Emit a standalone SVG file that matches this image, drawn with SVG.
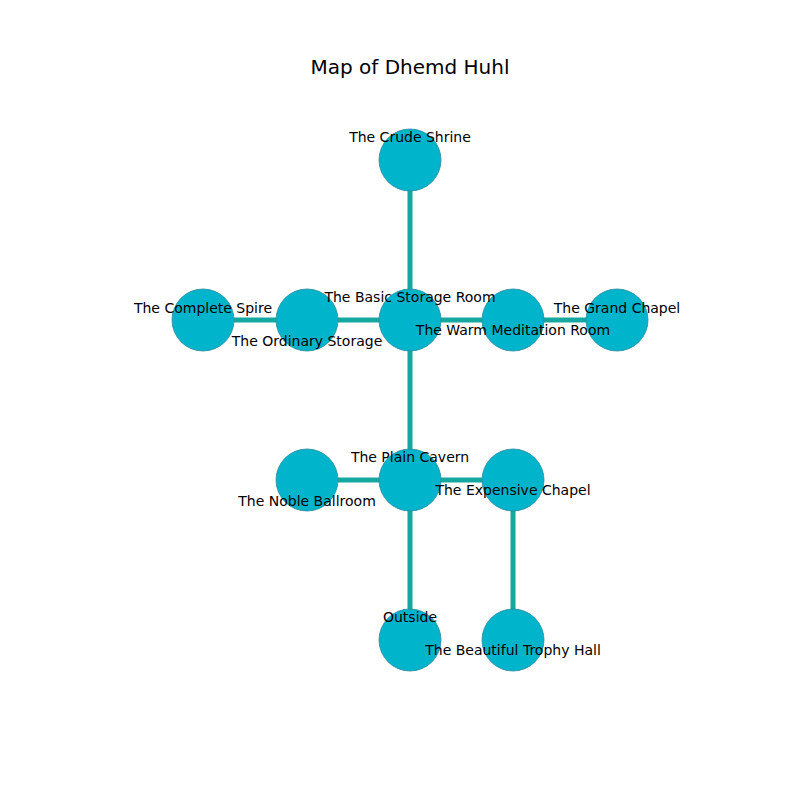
<svg xmlns="http://www.w3.org/2000/svg" width="800" height="800" viewBox="0 0 800 800">
<style>
.edge{stroke:#14a8a0;stroke-width:5;fill:none}
.node circle{fill:#00b4cc;stroke:#2a8a9a;stroke-width:0.8}
.label{font-family:"DejaVu Sans",sans-serif;font-size:14px;fill:#000;text-anchor:middle}
.title{font-family:"DejaVu Sans",sans-serif;font-size:20px;fill:#000;text-anchor:middle}
</style>
<rect width="800" height="800" fill="#fff"/>
<text class="title" x="410" y="74">Map of Dhemd Huhl</text>
<g id="connectors">
<line class="edge" x1="410" y1="160" x2="410" y2="320"/>
<line class="edge" x1="203" y1="320" x2="617" y2="320"/>
<line class="edge" x1="410" y1="320" x2="410" y2="640"/>
<line class="edge" x1="307" y1="480" x2="513" y2="480"/>
<line class="edge" x1="513" y1="480" x2="513" y2="640"/>
</g>
<g id="crude-shrine" class="node"><circle cx="410" cy="160" r="31"/></g>
<g id="complete-spire" class="node"><circle cx="203" cy="320" r="31"/></g>
<g id="ordinary-storage" class="node"><circle cx="307" cy="320" r="31"/></g>
<g id="basic-storage-room" class="node"><circle cx="410" cy="320" r="31"/></g>
<g id="warm-meditation-room" class="node"><circle cx="513" cy="320" r="31"/></g>
<g id="grand-chapel" class="node"><circle cx="617" cy="320" r="31"/></g>
<g id="noble-ballroom" class="node"><circle cx="307" cy="480" r="31"/></g>
<g id="plain-cavern" class="node"><circle cx="410" cy="480" r="31"/></g>
<g id="expensive-chapel" class="node"><circle cx="513" cy="480" r="31"/></g>
<g id="outside" class="node"><circle cx="410" cy="640" r="31"/></g>
<g id="beautiful-trophy-hall" class="node"><circle cx="513" cy="640" r="31"/></g>
<g id="labels">
<text class="label" x="410" y="142">The Crude Shrine</text>
<text class="label" x="203" y="313">The Complete Spire</text>
<text class="label" x="307" y="346">The Ordinary Storage</text>
<text class="label" x="410" y="302">The Basic Storage Room</text>
<text class="label" x="513" y="335">The Warm Meditation Room</text>
<text class="label" x="617" y="313">The Grand Chapel</text>
<text class="label" x="307" y="506">The Noble Ballroom</text>
<text class="label" x="410" y="462">The Plain Cavern</text>
<text class="label" x="513" y="495">The Expensive Chapel</text>
<text class="label" x="410" y="622">Outside</text>
<text class="label" x="513" y="655">The Beautiful Trophy Hall</text>
</g>
</svg>
